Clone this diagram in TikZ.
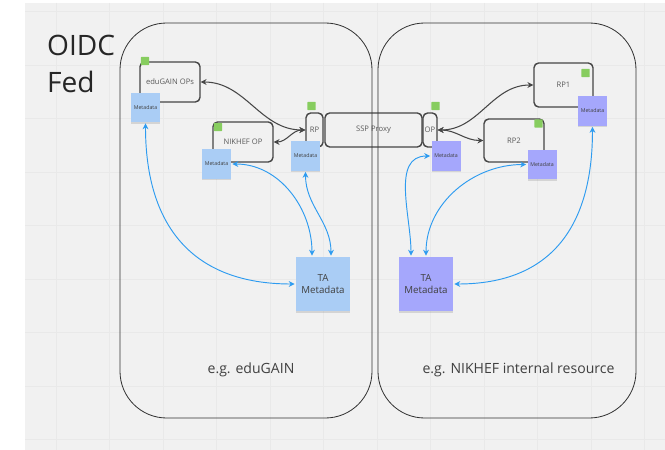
\documentclass[tikz,border=0pt]{standalone}
\usepackage{fontspec}
\setmainfont{Open Sans}
\usetikzlibrary{arrows.meta,shadows}
\definecolor{bg}{RGB}{241,241,241}
\definecolor{gridc}{RGB}{233,233,233}
\definecolor{boxline}{RGB}{70,70,70}
\definecolor{boxtext}{RGB}{90,90,90}
\definecolor{bluenote}{RGB}{170,205,245}
\definecolor{purplenote}{RGB}{165,167,252}
\definecolor{tagc}{RGB}{135,205,95}
\definecolor{arrc}{RGB}{70,70,70}
\definecolor{bluearr}{RGB}{45,155,240}
\begin{document}
\begin{tikzpicture}[x=0.03cm,y=-0.03cm,
 box/.style={draw=boxline,line width=1.2pt,rounded corners=4pt,fill=bg,text=boxtext,font=\fontsize{6.5}{7}\selectfont,inner sep=0pt},
 note/.style={fill=#1,inner sep=0pt,text=black!75,align=center,drop shadow={shadow xshift=0pt,shadow yshift=-1.3pt,opacity=.25}},
 small/.style={minimum size=0.87cm,font=\fontsize{4.5}{5}\selectfont},
 big/.style={minimum size=1.62cm,font=\fontsize{8.3}{10.5}\selectfont},
 tag/.style={fill=tagc,minimum size=0.25cm,inner sep=0pt,rounded corners=0.5pt},
 darr/.style={draw=arrc,line width=0.9pt,{Stealth[length=5pt,width=5pt]}-{Stealth[length=5pt,width=5pt]}},
 barr/.style={draw=bluearr,line width=0.8pt,{Stealth[length=5pt,width=5pt]}-{Stealth[length=5pt,width=5pt]},shorten <=1pt,shorten >=1pt},
 fed/.style={draw=black!80,line width=0.7pt,rounded corners=1.4cm},
 lbl/.style={font=\fontsize{12}{14}\selectfont,text=black!75,anchor=base}]
\useasboundingbox (0,0) rectangle (665,450);
\fill[white] (0,0) rectangle (665,450);
\fill[bg] (25,3) rectangle (665,450);
\foreach \x in {56,109.5,...,645} \draw[gridc,line width=0.4pt] (\x,3) -- (\x,450);
\foreach \y in {11.5,65,...,440} \draw[gridc,line width=0.4pt] (25,\y) -- (665,\y);
\node[anchor=base west,align=left,font=\fontsize{24}{32.3}\selectfont,text=black!85] (title) at (43,93) {OIDC\\Fed};
\node[box,minimum width=1.8cm,minimum height=1.2cm] (eduOPs) at (170,82) {eduGAIN OPs};
\node[box,minimum width=1.8cm,minimum height=1.2cm] (nikOP) at (243,142) {NIKHEF OP};
\node[box,minimum width=0.51cm,minimum height=1.02cm] (rp) at (314.5,130) {RP};
\node[box,minimum width=2.91cm,minimum height=1.02cm] (ssp) at (373.5,130) {SSP Proxy};
\node[box,minimum width=0.42cm,minimum height=1.02cm] (op) at (430,130) {OP};
\node[box,minimum width=1.77cm,minimum height=1.32cm] (rp1) at (563.5,85) {RP1};
\node[box,minimum width=1.8cm,minimum height=1.29cm] (rp2) at (514,140.5) {RP2};
\node[tag] (eduTag) at (145,61) {};
\node[tag] (nikTag) at (218,127) {};
\node[tag] (rpTag) at (311.5,106) {};
\node[tag] (opTag) at (435.5,106) {};
\node[tag] (rp1Tag) at (585.5,73) {};
\node[tag] (rp2Tag) at (538.5,123.5) {};
\node[note=bluenote,small] (eduMeta) at (145.5,107.5) {Metadata};
\node[note=bluenote,small] (nikMeta) at (216.5,164) {Metadata};
\node[note=bluenote,small] (rpMeta) at (305.5,156) {Metadata};
\node[note=purplenote,small] (opMeta) at (446,156) {Metadata};
\node[note=purplenote,small] (rp1Meta) at (592.5,111) {Metadata};
\node[note=purplenote,small] (rp2Meta) at (542,164.5) {Metadata};
\node[note=bluenote,big] (taL) at (323,284) {TA\\Metadata};
\node[note=purplenote,big] (taR) at (426,284) {TA\\Metadata};
\draw[darr] (eduOPs.east) to[out=0,in=180] (rp.west);
\draw[darr] (nikOP.east) to[out=0,in=180] (rp.west);
\draw[darr] (op.east) to[out=0,in=180] (rp1.west);
\draw[darr] (op.east) to[out=0,in=180] (rp2.west);
\draw[barr] (eduMeta.south) to[out=-90,in=180,looseness=1.2] (taL.west);
\draw[barr] (nikMeta.east) to[out=0,in=90] ([xshift=-0.33cm]taL.north);
\draw[barr] (rpMeta.south) to[out=-90,in=90] ([xshift=0.24cm]taL.north);
\draw[barr] (opMeta.west) to[out=180,in=90] ([xshift=-0.45cm]taR.north);
\draw[barr] (rp2Meta.west) to[out=180,in=90] (taR.north);
\draw[barr] (rp1Meta.south) to[out=-90,in=0,looseness=1.2] (taR.east);
\draw[fed] (120,23) rectangle (372,418);
\draw[fed] (378,23) rectangle (636,418);
\node[lbl] (eduLbl) at (251,373) {e.g. eduGAIN};
\node[lbl] (nikLbl) at (518.5,373) {e.g. NIKHEF internal resource};
\end{tikzpicture}
\end{document}
